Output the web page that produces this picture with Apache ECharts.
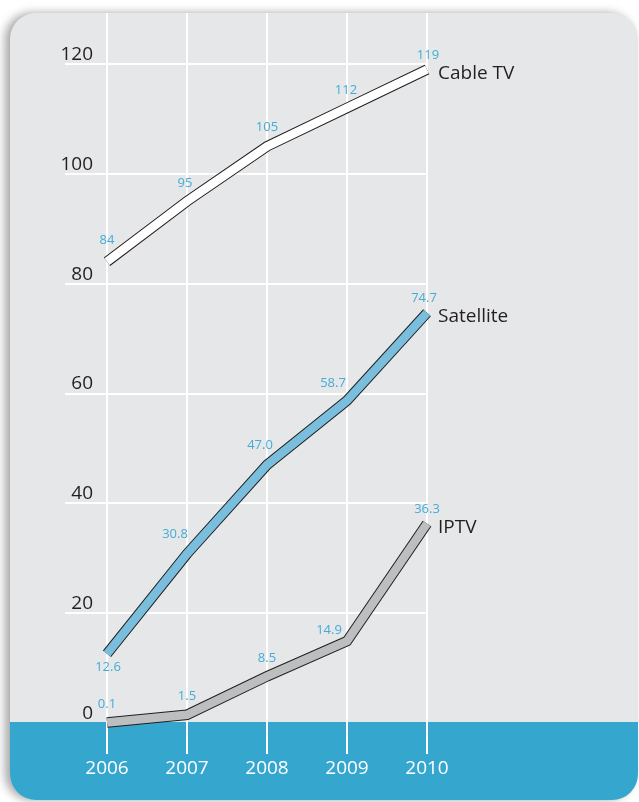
<!DOCTYPE html>
<html>
<head>
<meta charset="utf-8">
<script src="https://cdn.jsdelivr.net/npm/echarts@6/dist/echarts.min.js"></script>
<style>
  html, body { margin: 0; padding: 0; background: #fff; }
  #main { width: 639px; height: 802px; }
</style>
</head>
<body>
<div id="main"></div>
<script>
// data
var years = ['2006', '2007', '2008', '2009', '2010'];
var cableTV = [84, 95, 105, 112, 119];
var satellite = [12.6, 30.8, 47.0, 58.7, 74.7];
var iptv = [0.1, 1.5, 8.5, 14.9, 36.3];
var yMin = 0, yMax = 120, yStep = 20;

// hand placed value labels, [dx, dy] from the point (as in the original artwork)
var cableNudge = [[0, -21], [-2, -18], [0, -19], [-1, -18], [1, -14]];
var satNudge = [[1, 13], [-12, -20], [-7, -20], [-14, -17], [-3, -14]];
var iptvNudge = [[0, -18], [0, -18], [0, -18], [-18, -11], [0, -14]];

var panelGrey = '#e6e7e8';
var bandBlue = '#35a6ce';
var labelBlue = '#45acd5';
var ink = '#231f20';
var font = 'Open Sans';

var chart = echarts.init(document.getElementById('main'));

// each line is a black outline line with a narrower coloured line on top
function ribbon(name, vals, fill, dec, nudge) {
    var data = vals.map(function (v, i) {
        return { value: v, label: { offset: nudge[i] } };
    });
    return [{
        name: name + '_edge',
        type: 'line',
        data: vals,
        symbol: 'none',
        silent: true,
        z: 5,
        lineStyle: { color: ink, width: 10.5, join: 'miter', cap: 'butt' }
    }, {
        name: name,
        type: 'line',
        data: data,
        symbol: 'circle',
        symbolSize: 1,
        itemStyle: { color: 'rgba(0,0,0,0)' },
        z: 6,
        lineStyle: { color: fill, width: 8.5, join: 'miter', cap: 'butt' },
        label: {
            show: true,
            position: 'inside',
            color: labelBlue,
            fontFamily: font,
            fontSize: 13,
            formatter: function (p) { return Number(p.value).toFixed(dec); }
        },
        endLabel: {
            show: true,
            formatter: name,
            color: ink,
            fontFamily: font,
            fontSize: 19,
            distance: 11,
            offset: [0, 4]
        }
    }];
}

var series = []
    .concat(ribbon('Cable TV', cableTV, '#ffffff', 0, cableNudge))
    .concat(ribbon('Satellite', satellite, '#79bedd', 1, satNudge))
    .concat(ribbon('IPTV', iptv, '#bcbec0', 1, iptvNudge));

var option = {
    animation: false,
    backgroundColor: '#ffffff',
    graphic: [{
        type: 'rect',
        z: -10,
        shape: { x: 10, y: 13, width: 628, height: 787, r: 26 },
        style: {
            fill: panelGrey,
            shadowColor: 'rgba(0,0,0,0.35)',
            shadowBlur: 10,
            shadowOffsetX: -5
        }
    }, {
        type: 'rect',
        z: -9,
        shape: { x: 10, y: 722, width: 628, height: 78, r: [0, 0, 26, 26] },
        style: { fill: bandBlue }
    }],
    grid: [
        { left: 107, right: 212, top: 64, bottom: 79 },   // lines
        { left: 65, right: 212, top: 64, bottom: 189 },   // horizontal grid lines
        { left: 107, right: 212, top: 13, bottom: 48 }    // vertical grid lines
    ],
    xAxis: [{
        type: 'category',
        gridIndex: 0,
        data: years,
        boundaryGap: false,
        axisLine: { show: false },
        axisTick: { show: false },
        splitLine: { show: false },
        axisLabel: { color: '#ffffff', fontFamily: font, fontSize: 19, margin: 36 }
    }, {
        type: 'value',
        gridIndex: 1,
        show: false
    }, {
        type: 'category',
        gridIndex: 2,
        data: years,
        boundaryGap: false,
        axisLine: { show: false },
        axisTick: { show: false },
        axisLabel: { show: false },
        splitLine: { show: true, lineStyle: { color: '#ffffff', width: 2 } }
    }],
    yAxis: [{
        type: 'value',
        gridIndex: 0,
        min: yMin,
        max: yMax,
        interval: yStep,
        axisLine: { show: false },
        axisTick: { show: false },
        splitLine: { show: false },
        axisLabel: {
            color: ink, fontFamily: font, fontSize: 19,
            margin: 14, verticalAlign: 'bottom'
        }
    }, {
        type: 'value',
        gridIndex: 1,
        min: yMin + yStep,
        max: yMax,
        interval: yStep,
        axisLine: { show: false },
        axisTick: { show: false },
        axisLabel: { show: false },
        splitLine: { show: true, lineStyle: { color: '#ffffff', width: 2 } }
    }, {
        type: 'value',
        gridIndex: 2,
        show: false
    }],
    series: series
};

chart.setOption(option);
</script>
</body>
</html>
